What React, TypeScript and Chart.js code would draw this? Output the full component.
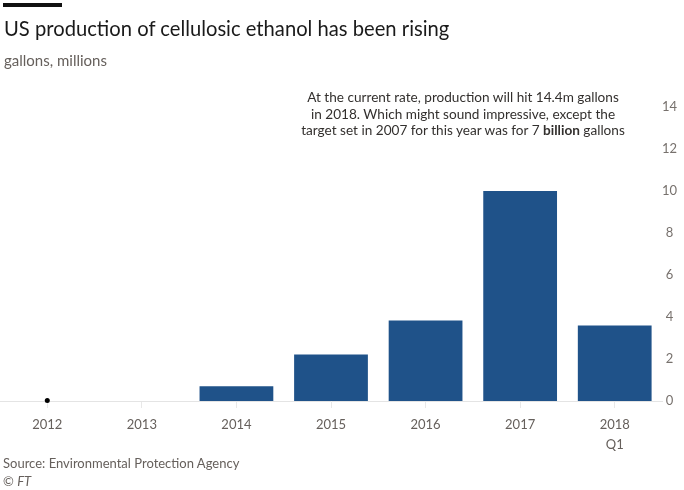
import { useEffect, useRef } from "react";
import { Chart, registerables } from "chart.js";

Chart.register(...registerables);

// Annual US cellulosic ethanol production, millions of gallons
const years: string[][] = [["2012"], ["2013"], ["2014"], ["2015"], ["2016"], ["2017"], ["2018", "Q1"]];
const production: (number | null)[] = [null, 0, 0.7, 2.21, 3.83, 10.0, 3.6];
// 2012 output was too small to show as a bar, so it is marked with a dot
const tinyOutput: (number | null)[] = [0.02, null, null, null, null, null, null];
const yMax = 14;
const yStep = 2;

const FONT = "Lato, 'Open Sans', sans-serif";
const BAR_BLUE = "#1f5289";
const MUTED = "#66605c";

export default function App() {
  const canvasRef = useRef<HTMLCanvasElement | null>(null);

  useEffect(() => {
    const canvas = canvasRef.current;
    if (!canvas) return;
    const chart = new Chart(canvas, {
      type: "bar",
      data: {
        labels: years,
        datasets: [
          {
            type: "line",
            data: tinyOutput,
            showLine: false,
            pointRadius: 2.5,
            pointBackgroundColor: "#000",
            pointBorderWidth: 0,
            clip: false,
            order: 1,
          } as any,
          {
            type: "bar",
            data: production,
            backgroundColor: BAR_BLUE,
            barPercentage: 0.78,
            categoryPercentage: 1,
            order: 2,
          },
        ],
      },
      options: {
        responsive: false,
        animation: false,
        layout: { autoPadding: false, padding: { top: 107, left: 0, right: 0, bottom: 37 } },
        plugins: { legend: { display: false }, tooltip: { enabled: false } },
        scales: {
          x: {
            grid: {
              offset: false,
              drawOnChartArea: false,
              drawTicks: true,
              tickLength: 7,
              color: "#e8e8e8",
            },
            border: { display: true, color: "#e4e4e4" },
            ticks: {
              color: MUTED,
              font: { family: FONT, size: 13, lineHeight: 1.6 },
              padding: 6,
              maxRotation: 0,
              autoSkip: false,
            },
            afterFit: (s: any) => {
              s.height = 52;
            },
          },
          y: {
            position: "right",
            min: 0,
            max: yMax,
            ticks: {
              stepSize: yStep,
              color: "#77716d",
              font: { family: FONT, size: 13 },
              padding: 0,
              crossAlign: "center",
            },
            grid: { display: false, drawTicks: false },
            border: { display: false },
            afterFit: (s: any) => {
              s.width = 22;
            },
          },
        },
      },
    });
    return () => chart.destroy();
  }, []);

  return (
    <div
      style={{
        position: "fixed",
        left: 0,
        top: 0,
        width: 684,
        height: 490,
        background: "#fff",
        fontFamily: FONT,
      }}
    >
      <canvas ref={canvasRef} width={684} height={490} style={{ position: "absolute", left: 0, top: 0, display: "block" }} />
      <div style={{ position: "absolute", left: 3, top: 3, width: 59, height: 4, background: "#111" }} />
      <div style={{ position: "absolute", left: 4, top: 16, fontSize: 20.2, lineHeight: "24px", color: "#1a1a1a", whiteSpace: "nowrap" }}>
        US production of cellulosic ethanol has been rising
      </div>
      <div style={{ position: "absolute", left: 4, top: 50, fontSize: 15, lineHeight: "20px", color: MUTED, whiteSpace: "nowrap" }}>
        gallons, millions
      </div>
      <div
        style={{
          position: "absolute",
          left: 263,
          top: 89,
          width: 400,
          textAlign: "center",
          fontSize: 13.6,
          lineHeight: "16.5px",
          color: "#33302e",
          whiteSpace: "nowrap",
        }}
      >
        At the current rate, production will hit 14.4m gallons
        <br />
        in 2018. Which might sound impressive, except the
        <br />
        target set in 2007 for this year was for 7 <b>billion</b> gallons
      </div>
      <div style={{ position: "absolute", left: 3, top: 453, fontSize: 13, lineHeight: "20px", color: MUTED, whiteSpace: "nowrap" }}>
        Source: Environmental Protection Agency
      </div>
      <div style={{ position: "absolute", left: 3, top: 471, fontSize: 13, lineHeight: "20px", color: MUTED, whiteSpace: "nowrap" }}>
        © <i>FT</i>
      </div>
    </div>
  );
}
